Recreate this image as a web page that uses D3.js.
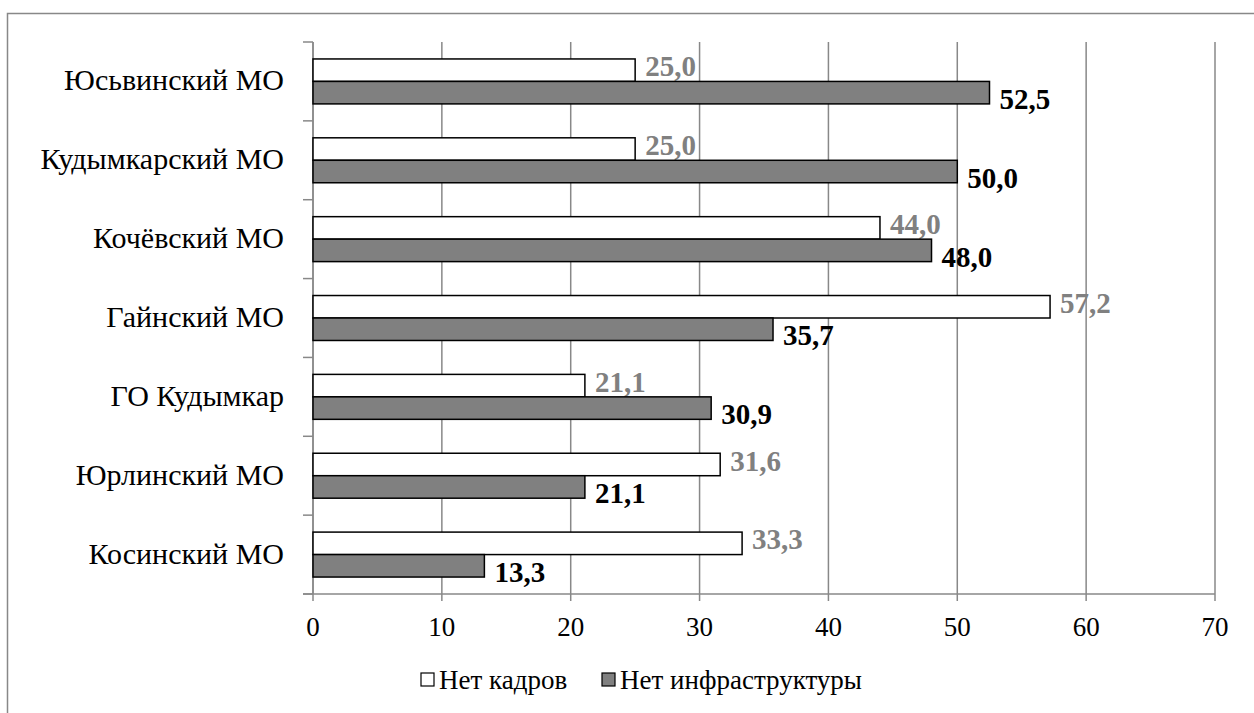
<!DOCTYPE html>
<html>
<head>
<meta charset="utf-8">
<script src="https://cdn.jsdelivr.net/npm/d3@7"></script>
</head>
<body style="margin:0;background:#fff">
<svg id="chart"></svg>
<script>
const width = 1254;
const height = 713;

const categories = ["Юсьвинский МО", "Кудымкарский МО", "Кочёвский МО", "Гайнский МО", "ГО Кудымкар", "Юрлинский МО", "Косинский МО"];
const seriesNames = ["Нет кадров", "Нет инфраструктуры"];
const noStaff = [25.0, 25.0, 44.0, 57.2, 21.1, 31.6, 33.3];
const noInfra = [52.5, 50.0, 48.0, 35.7, 30.9, 21.1, 13.3];
const xTicks = [0, 10, 20, 30, 40, 50, 60, 70];

const fills = ["#ffffff", "#808080"];
const labelColors = ["#808080", "#000000"];
const gridColor = "#888888";
const font = "'Liberation Serif', Tinos, 'Times New Roman', serif";

const svg = d3.select("#chart")
    .attr("width", width)
    .attr("height", height);

// outer frame (right and bottom run off the picture)
svg.append("path")
    .attr("d", `M7.5,${height + 5}V13.5H${width + 5}`)
    .attr("fill", "none")
    .attr("stroke", gridColor)
    .attr("stroke-width", 1.5);

const x = d3.scaleLinear()
    .domain([0, 70])
    .range([313, 1215]);

const y = d3.scaleBand()
    .domain(categories)
    .range([42, 594])
    .paddingInner(0.43)
    .paddingOuter(0.215);

const ySub = d3.scaleBand()
    .domain([0, 1])
    .range([0, y.bandwidth()]);

// vertical gridlines
svg.append("g")
    .selectAll("line")
    .data(xTicks)
    .enter()
    .append("line")
    .attr("x1", d => x(d))
    .attr("x2", d => x(d))
    .attr("y1", 42)
    .attr("y2", 601)
    .attr("stroke", gridColor)
    .attr("stroke-width", 1.5);

// x axis line
svg.append("line")
    .attr("x1", 303)
    .attr("x2", x(70))
    .attr("y1", 594)
    .attr("y2", 594)
    .attr("stroke", gridColor)
    .attr("stroke-width", 1.5);

// x tick labels
svg.append("g")
    .selectAll("text")
    .data(xTicks)
    .enter()
    .append("text")
    .attr("x", d => x(d))
    .attr("y", 636)
    .attr("text-anchor", "middle")
    .style("font-family", font)
    .style("font-size", "27px")
    .attr("fill", "#000")
    .text(d => d);

// category axis with ticks at band boundaries
const step = y.step();
const boundaries = d3.range(categories.length + 1).map(i => 42 + i * step);
svg.append("line")
    .attr("x1", x(0))
    .attr("x2", x(0))
    .attr("y1", 42)
    .attr("y2", 594)
    .attr("stroke", gridColor)
    .attr("stroke-width", 1.5);
svg.append("g")
    .selectAll("line")
    .data(boundaries)
    .enter()
    .append("line")
    .attr("x1", 303)
    .attr("x2", x(0))
    .attr("y1", d => d)
    .attr("y2", d => d)
    .attr("stroke", gridColor)
    .attr("stroke-width", 1.5);

svg.append("g")
    .selectAll("text")
    .data(categories)
    .enter()
    .append("text")
    .attr("x", 284)
    .attr("y", d => y(d) + y.bandwidth() / 2)
    .attr("dy", "0.3em")
    .attr("text-anchor", "end")
    .style("font-family", font)
    .style("font-size", "30px")
    .attr("fill", "#000")
    .text(d => d);

// bars
const series = [noStaff, noInfra];
series.forEach((values, s) => {
    const g = svg.append("g");
    g.selectAll("rect")
        .data(values)
        .enter()
        .append("rect")
        .attr("x", x(0))
        .attr("y", (d, i) => y(categories[i]) + ySub(s))
        .attr("width", d => x(d) - x(0))
        .attr("height", ySub.bandwidth())
        .attr("fill", fills[s])
        .attr("stroke", "#000")
        .attr("stroke-width", 1.5);

    g.selectAll("text")
        .data(values)
        .enter()
        .append("text")
        .attr("x", d => x(d) + 10)
        .attr("y", (d, i) => y(categories[i]) + ySub(s) + ySub.bandwidth() / 2 + (s === 0 ? -4 : 6))
        .attr("dy", "0.35em")
        .style("font-family", font)
        .style("font-size", "29px")
        .style("font-weight", "bold")
        .attr("fill", labelColors[s])
        .text(d => d.toFixed(1).replace(".", ","));
});

// legend
const legendX = [421, 602];
const legend = svg.append("g");
seriesNames.forEach((name, s) => {
    legend.append("rect")
        .attr("x", legendX[s])
        .attr("y", 673)
        .attr("width", 13)
        .attr("height", 13)
        .attr("fill", fills[s])
        .attr("stroke", "#000")
        .attr("stroke-width", 1.2);
    legend.append("text")
        .attr("x", legendX[s] + 18)
        .attr("y", 689)
        .style("font-family", font)
        .style("font-size", "27px")
        .attr("fill", "#000")
        .text(name);
});
</script>
</body>
</html>
